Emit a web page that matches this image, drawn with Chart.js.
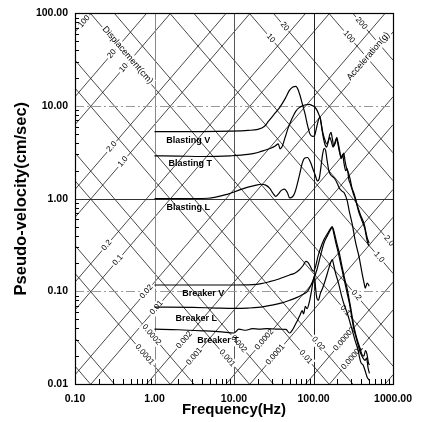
<!DOCTYPE html>
<html><head><meta charset="utf-8">
<script src="https://cdn.jsdelivr.net/npm/chart.js@4.4.1/dist/chart.umd.min.js"></script>
<style>html,body{margin:0;padding:0;background:#fff;}canvas{display:block;}</style>
</head><body>
<canvas id="c" width="421" height="422"></canvas>
<script>
// ---------- tick labels ----------
const xDecades = [0.1, 1, 10, 100, 1000];
const xTickLabels = ['0.10', '1.00', '10.00', '100.00', '1000.00'];
const yDecades = [0.01, 0.1, 1, 10, 100];
const yTickLabels = ['0.01', '0.10', '1.00', '10.00', '100.00'];

// ---------- tripartite grid values ----------
const dispValues = [100, 20, 10, 2, 1, 0.2, 0.1, 0.02, 0.01, 0.002, 0.001, 0.0002, 0.0001, 0.00002, 0.00001, 0.000002];
const accelValues = [200, 100, 20, 10, 2, 1, 0.2, 0.1, 0.02, 0.01, 0.002, 0.001, 0.0002, 0.0001, 0.00002, 0.00001];
const dispLabelValues = [100, 20, 10, 2, 1, 0.2, 0.1, 0.02, 0.01, 0.002, 0.001, 0.0002, 0.0001, 0.00002, 0.00001];
const dispLabelTexts = ['100', '20', '10', '2.0', '1.0', '0.2', '0.1', '0.02', '0.01', '0.002', '0.001', '0.0002', '0.0001', '0.00002', '0.00001'];
const accelLabelValues = [200, 100, 20, 10, 2, 1, 0.2, 0.1, 0.02, 0.01, 0.002, 0.001, 0.0002, 0.0001];
const accelLabelTexts = ['200', '100', '20', '10', '2.0', '1.0', '0.2', '0.1', '0.02', '0.01', '0.002', '0.001', '0.0002', '0.0001'];

// ---------- spectra (frequency Hz, pseudo-velocity cm/s) ----------
const freqBlastV = [1, 2, 4, 9, 15, 20, 24, 27, 30, 33, 38, 44, 50, 55, 60, 64, 68, 73, 78, 84, 90, 97, 103, 108, 115, 120, 126, 132, 138, 146, 152, 160, 168, 176, 184, 192, 200, 210, 220, 230, 240, 250, 262, 275, 290, 305, 325, 355, 387, 434, 473, 501];
const velBlastV  = [5.3, 5.3, 5.3, 5.35, 5.45, 5.6, 6.0, 6.8, 7.6, 8.4, 9.8, 12.0, 14.8, 16.0, 16.3, 15.0, 12.8, 10.2, 8.3, 6.2, 5.0, 4.7, 4.8, 5.6, 7.0, 7.6, 6.2, 5.0, 4.4, 3.9, 4.1, 4.6, 4.1, 3.6, 3.9, 4.4, 4.1, 3.3, 2.9, 2.8, 3.1, 2.5, 2.1, 1.9, 1.6, 1.3, 1.12, 0.85, 0.68, 0.53, 0.38, 0.33];

const freqBlastT = [1, 2, 4, 9, 15, 20, 25, 29, 33, 36, 38, 40, 44, 48, 52, 56, 60, 66, 72, 80, 89, 96, 103, 112, 118, 122, 128, 134, 140, 146, 152, 160, 166, 172, 180, 188, 196, 204, 212, 222, 232, 242, 254, 266, 278, 290, 315, 340, 370, 400, 440, 473, 495];
const velBlastT  = [2.9, 2.88, 2.85, 2.9, 3.0, 3.15, 3.35, 3.5, 3.7, 3.9, 3.45, 3.6, 4.6, 5.8, 6.9, 7.9, 8.8, 9.6, 10.0, 10.3, 10.4, 10.1, 9.8, 8.8, 7.9, 7.3, 5.5, 4.4, 3.8, 3.6, 4.0, 4.9, 5.2, 4.5, 3.7, 4.0, 4.6, 4.0, 3.4, 2.7, 3.0, 2.4, 2.0, 2.1, 1.6, 1.45, 1.15, 0.95, 0.72, 0.6, 0.48, 0.35, 0.31];

const freqBlastL = [1, 2, 4.7, 8.4, 12, 15, 19, 22, 25, 28, 31, 33.5, 36, 39, 43, 47, 50, 54, 58, 62, 67, 72, 77, 84, 92, 98, 105, 112, 118, 124, 130, 136, 142, 148, 156, 165, 183, 200, 211, 230, 244, 266, 282, 307, 335, 376, 410, 435, 447, 473, 501];
const velBlastL  = [1.0, 1.0, 1.01, 1.12, 1.25, 1.33, 1.4, 1.43, 1.4, 1.3, 1.14, 1.06, 1.12, 1.22, 1.27, 1.16, 1.02, 1.04, 1.15, 1.4, 1.84, 2.4, 2.73, 2.78, 2.45, 2.1, 1.8, 1.55, 1.65, 2.2, 3.0, 3.5, 3.3, 2.6, 2.0, 1.8, 1.66, 1.45, 1.3, 1.2, 1.15, 0.94, 0.73, 0.53, 0.35, 0.23, 0.153, 0.12, 0.108, 0.123, 0.114];

const freqBreakV = [1, 5, 10, 17, 22, 28, 35, 42, 50, 58, 66, 74, 80, 85, 90, 96, 100, 106, 114, 122, 135, 150, 162, 172, 180, 190, 200, 211, 230, 250, 266, 280, 295, 310, 330, 355, 380, 405, 430, 450, 470, 490, 505];
const velBreakV  = [0.117, 0.117, 0.117, 0.118, 0.121, 0.127, 0.134, 0.142, 0.15, 0.157, 0.17, 0.19, 0.21, 0.205, 0.19, 0.17, 0.165, 0.185, 0.24, 0.29, 0.36, 0.42, 0.47, 0.5, 0.45, 0.37, 0.31, 0.26, 0.18, 0.13, 0.105, 0.083, 0.065, 0.05, 0.038, 0.03, 0.025, 0.021, 0.02, 0.023, 0.021, 0.017, 0.016];

const freqBreakL = [1, 3, 6, 10, 15, 20, 30, 40, 50, 60, 72, 84, 92, 100, 110, 122, 135, 150, 163, 172, 180, 190, 205, 225, 245, 265, 282, 300, 320, 345, 370, 395, 420, 445, 465, 485, 505];
const velBreakL  = [0.0676, 0.067, 0.066, 0.0655, 0.066, 0.067, 0.071, 0.075, 0.08, 0.085, 0.092, 0.1, 0.115, 0.135, 0.17, 0.24, 0.33, 0.4, 0.46, 0.49, 0.42, 0.34, 0.26, 0.18, 0.13, 0.095, 0.075, 0.055, 0.04, 0.031, 0.025, 0.021, 0.019, 0.018, 0.019, 0.015, 0.013];

const freqBreakT = [1, 2, 4, 7, 10, 11.5, 14, 17, 21, 26, 32, 38, 45, 50, 55, 60, 64, 68, 72, 75, 79, 83, 89, 95, 99, 103, 106, 110, 115, 122, 130, 140, 152, 163, 172, 180, 190, 205, 225, 245, 266, 290, 310, 335, 360, 376, 395, 420, 445, 470, 500];
const velBreakT  = [0.039, 0.0385, 0.0375, 0.0365, 0.0355, 0.039, 0.038, 0.0395, 0.039, 0.0395, 0.0392, 0.039, 0.0388, 0.0355, 0.039, 0.045, 0.05, 0.056, 0.062, 0.057, 0.069, 0.065, 0.078, 0.105, 0.13, 0.148, 0.11, 0.085, 0.08, 0.095, 0.108, 0.13, 0.165, 0.2, 0.22, 0.19, 0.155, 0.125, 0.09, 0.07, 0.058, 0.045, 0.037, 0.029, 0.024, 0.02, 0.017, 0.016, 0.014, 0.012, 0.011];

const curveNames = ['Blasting V', 'Blasting T', 'Blasting L', 'Breaker V', 'Breaker L', 'Breaker T'];
const curveFreqs = [freqBlastV, freqBlastT, freqBlastL, freqBreakV, freqBreakL, freqBreakT];
const curveVels = [velBlastV, velBlastT, velBlastL, velBreakV, velBreakL, velBreakT];

// ---------- layout-only anchors (frequency where each label sits on its line) ----------
const dispLabelAt = [0.13, 0.29, 0.41, 0.29, 0.40, 0.25, 0.345, 0.79, 1.06, 2.37, 3.16, 24, 33, 244, 307];
const accelLabelAt = [400, 280, 43.4, 29, 891, 668, 345, 251, 115, 80, 11.5, 8.2, 0.917, 0.75];
const curveLabelAt = [[2.66, 4.27], [2.82, 2.41], [2.66, 0.81], [4.1, 0.0958], [3.35, 0.0515], [6.3, 0.0291]];

const G = 981; // cm/s^2 per g
const FONT = "'Liberation Sans', Arial, sans-serif";

function rotLabel(ctx, text, px, py, ang, font, bg) {
  ctx.save();
  ctx.translate(px, py);
  ctx.rotate(ang);
  ctx.font = font;
  const w = ctx.measureText(text).width;
  if (bg) { ctx.fillStyle = '#fff'; ctx.fillRect(-w / 2 - 1.5, -5, w + 3, 10); }
  ctx.fillStyle = '#000';
  ctx.textAlign = 'center';
  ctx.textBaseline = 'middle';
  ctx.fillText(text, 0, 0);
  ctx.restore();
}

const tripartite = {
  id: 'tripartite',
  beforeDatasetsDraw(chart) {
    const { ctx, chartArea: ca, scales: { x, y } } = chart;
    ctx.save();
    ctx.beginPath();
    ctx.rect(ca.left, ca.top, ca.right - ca.left, ca.bottom - ca.top);
    ctx.clip();

    // diagonal lines
    ctx.strokeStyle = '#1a1a1a';
    ctx.lineWidth = 0.8;
    const f0 = x.min, f1 = x.max;
    dispValues.forEach(d => {
      ctx.beginPath();
      ctx.moveTo(x.getPixelForValue(f0), y.getPixelForValue(2 * Math.PI * f0 * d));
      ctx.lineTo(x.getPixelForValue(f1), y.getPixelForValue(2 * Math.PI * f1 * d));
      ctx.stroke();
    });
    accelValues.forEach(a => {
      ctx.beginPath();
      ctx.moveTo(x.getPixelForValue(f0), y.getPixelForValue(a * G / (2 * Math.PI * f0)));
      ctx.lineTo(x.getPixelForValue(f1), y.getPixelForValue(a * G / (2 * Math.PI * f1)));
      ctx.stroke();
    });

    // decade grid lines
    const vCols = ['#888', '#555', '#222'];
    [1, 10, 100].forEach((f, i) => {
      const px = Math.round(x.getPixelForValue(f)) + 0.5;
      ctx.strokeStyle = vCols[i]; ctx.lineWidth = 1; ctx.setLineDash([]);
      ctx.beginPath(); ctx.moveTo(px, ca.top); ctx.lineTo(px, ca.bottom); ctx.stroke();
    });
    [0.1, 10].forEach(v => {
      const py = Math.round(y.getPixelForValue(v)) + 0.5;
      ctx.strokeStyle = '#999'; ctx.lineWidth = 1.2; ctx.setLineDash([9, 3, 2, 3]);
      ctx.beginPath(); ctx.moveTo(ca.left, py); ctx.lineTo(ca.right, py); ctx.stroke();
    });
    ctx.setLineDash([]);
    {
      const py = Math.round(y.getPixelForValue(1)) + 0.5;
      ctx.strokeStyle = '#333'; ctx.lineWidth = 1;
      ctx.beginPath(); ctx.moveTo(ca.left, py); ctx.lineTo(ca.right, py); ctx.stroke();
    }

    // line labels
    const dx = x.getPixelForValue(10) - x.getPixelForValue(1);
    const dy = y.getPixelForValue(10) - y.getPixelForValue(1);
    const angD = Math.atan2(dy, dx);
    const angA = Math.atan2(-dy, dx);
    const lf = "8px " + FONT;
    dispLabelValues.forEach((d, i) => {
      const f = dispLabelAt[i];
      rotLabel(ctx, dispLabelTexts[i], x.getPixelForValue(f), y.getPixelForValue(2 * Math.PI * f * d), angD, lf, true);
    });
    accelLabelValues.forEach((a, i) => {
      const f = accelLabelAt[i];
      rotLabel(ctx, accelLabelTexts[i], x.getPixelForValue(f), y.getPixelForValue(a * G / (2 * Math.PI * f)), angA, lf, true);
    });
    rotLabel(ctx, 'Displacement(cm)', x.getPixelForValue(0.459), y.getPixelForValue(35.3), angA, "9px " + FONT, true);
    rotLabel(ctx, 'Acceleration(g)', x.getPixelForValue(488), y.getPixelForValue(34.4), angD, "9px " + FONT, true);

    // curve labels
    ctx.font = "bold 9px 'Liberation Sans Narrow', " + FONT;
    ctx.fillStyle = '#000'; ctx.textAlign = 'center'; ctx.textBaseline = 'middle';
    curveNames.forEach((n, i) => {
      ctx.fillText(n, x.getPixelForValue(curveLabelAt[i][0]), y.getPixelForValue(curveLabelAt[i][1]));
    });
    ctx.restore();
  },
  afterDatasetsDraw(chart) {
    const { ctx, chartArea: ca, scales: { x, y } } = chart;
    ctx.save();
    ctx.strokeStyle = '#000'; ctx.lineWidth = 1;
    // minor ticks, inward
    for (let d = 0.01; d < 100; d *= 10) {
      for (let k = 2; k <= 9; k++) {
        const py = Math.round(y.getPixelForValue(k * d)) + 0.5;
        ctx.beginPath(); ctx.moveTo(ca.left, py); ctx.lineTo(ca.left + 4, py); ctx.stroke();
      }
    }
    for (let d = 0.1; d < 1000; d *= 10) {
      for (let k = 2; k <= 9; k++) {
        const px = Math.round(x.getPixelForValue(k * d)) + 0.5;
        ctx.beginPath(); ctx.moveTo(px, ca.bottom); ctx.lineTo(px, ca.bottom - 5); ctx.stroke();
      }
    }
    // frame
    ctx.lineWidth = 1.2;
    ctx.strokeRect(Math.round(ca.left) + 0.5, Math.round(ca.top) + 0.5, Math.round(ca.right - ca.left), Math.round(ca.bottom - ca.top));
    ctx.restore();
  }
};

function decadeLabel(values, labels) {
  return function (v) {
    for (let i = 0; i < values.length; i++) {
      if (Math.abs(Math.log10(v) - Math.log10(values[i])) < 1e-6) return labels[i];
    }
    return '';
  };
}

new Chart(document.getElementById('c'), {
  type: 'line',
  data: {
    datasets: curveNames.map((n, i) => ({
      label: n,
      data: curveFreqs[i].map((f, j) => ({ x: f, y: curveVels[i][j] })),
      borderColor: '#000',
      borderWidth: 1.2,
      pointRadius: 0,
      fill: false,
      cubicInterpolationMode: 'monotone'
    }))
  },
  options: {
    responsive: false,
    animation: false,
    devicePixelRatio: 1,
    layout: { padding: { left: 0, top: 13, right: 25, bottom: 0 } },
    plugins: { legend: { display: false }, tooltip: { enabled: false } },
    scales: {
      x: {
        type: 'logarithmic', min: 0.1, max: 1000,
        grid: { display: false, drawTicks: false },
        border: { display: false },
        ticks: { autoSkip: false, maxRotation: 0, padding: 9, color: '#000',
          font: { family: FONT, size: 10.5, weight: 'bold' },
          callback: decadeLabel(xDecades, xTickLabels) },
        title: { display: true, text: 'Frequency(Hz)', color: '#000',
          font: { family: FONT, size: 15, weight: 'bold' }, padding: { top: 0, bottom: 3 } },
        afterFit(s) { s.height = 38; }
      },
      y: {
        type: 'logarithmic', min: 0.01, max: 100,
        grid: { display: false, drawTicks: false },
        border: { display: false },
        ticks: { autoSkip: false, padding: 7, color: '#000',
          font: { family: FONT, size: 10.5, weight: 'bold' },
          callback: decadeLabel(yDecades, yTickLabels) },
        title: { display: true, text: 'Pseudo-velocity(cm/sec)', color: '#000',
          font: { family: FONT, size: 16.5, weight: 'bold' }, padding: { top: 12, bottom: 0 } },
        afterFit(s) { s.width = 75; }
      }
    }
  },
  plugins: [tripartite]
});
</script>
</body></html>
